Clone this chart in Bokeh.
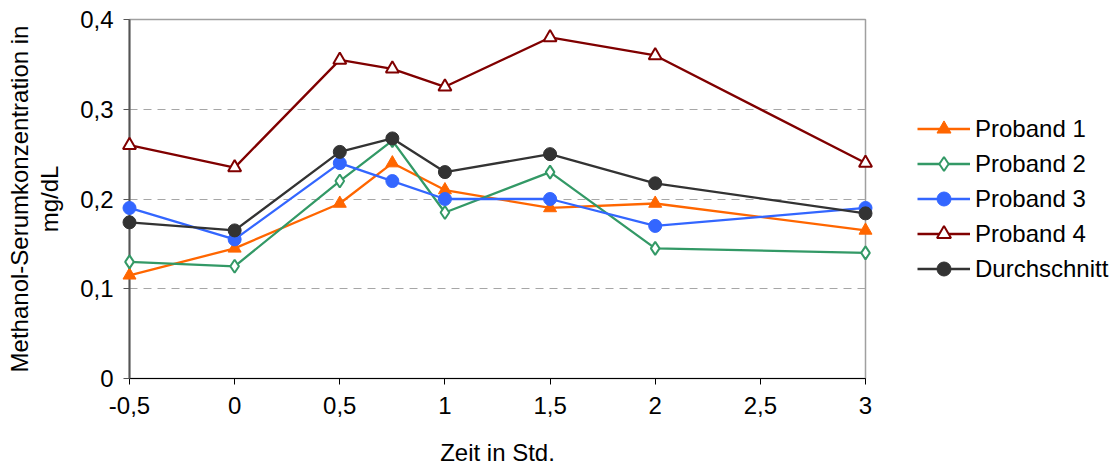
from bokeh.plotting import figure
from bokeh.models import (Range1d, FixedTicker, CustomJSTickFormatter, Legend, LegendItem)
from bokeh.embed import file_html
from bokeh.resources import INLINE

# ---- data ----
zeit = [-0.5, 0, 0.5, 0.75, 1, 1.5, 2, 3]
proband1 = [0.115, 0.145, 0.195, 0.24, 0.21, 0.19, 0.195, 0.165]
proband2 = [0.13, 0.125, 0.22, 0.265, 0.185, 0.23, 0.145, 0.14]
proband3 = [0.19, 0.155, 0.24, 0.22, 0.20, 0.20, 0.17, 0.19]
proband4 = [0.26, 0.235, 0.355, 0.345, 0.325, 0.38, 0.36, 0.24]
durchschnitt = [0.174, 0.165, 0.2525, 0.2675, 0.23, 0.25, 0.2175, 0.184]
series_names = ["Proband 1", "Proband 2", "Proband 3", "Proband 4", "Durchschnitt"]
x_ticks = [-0.5, 0, 0.5, 1, 1.5, 2, 2.5, 3]
y_ticks = [0, 0.1, 0.2, 0.3, 0.4]
x_title = "Zeit in Std."
y_title = "Methanol-Serumkonzentration in\nmg/dL"

FONT = "Liberation Sans"

p = figure(frame_width=736, frame_height=359,
           x_range=Range1d(-0.5, 3), y_range=Range1d(0, 0.4),
           output_backend="svg", toolbar_location=None,
           min_border_left=129, min_border_top=19, min_border_right=252,
           min_border_bottom=0)
p.background_fill_color = "white"
p.border_fill_color = "white"
p.outline_line_color = "#a0a0a0"
p.outline_line_width = 1.5

fmt = CustomJSTickFormatter(code="return String(Math.round(tick*10)/10).replace('.', ',');")

xa = p.xaxis[0]
xa.ticker = FixedTicker(ticks=x_ticks)
xa.formatter = fmt
xa.axis_line_color = "black"
xa.axis_line_width = 1.2
xa.major_tick_line_color = "black"
xa.major_tick_out = 6
xa.major_tick_in = 0
xa.minor_tick_line_color = None
xa.major_label_text_font = FONT
xa.major_label_text_font_size = "24px"
xa.major_label_text_color = "black"
xa.major_label_standoff = 12
xa.axis_label = x_title
xa.axis_label_text_font = FONT
xa.axis_label_text_font_size = "24px"
xa.axis_label_text_font_style = "normal"
xa.axis_label_text_color = "black"
xa.axis_label_standoff = 22

ya = p.yaxis[0]
ya.ticker = FixedTicker(ticks=y_ticks)
ya.formatter = fmt
ya.axis_line_color = "#555555"
ya.axis_line_width = 2
ya.major_tick_line_color = "#555555"
ya.major_tick_out = 6
ya.major_tick_in = 0
ya.minor_tick_line_color = None
ya.major_label_text_font = FONT
ya.major_label_text_font_size = "24px"
ya.major_label_text_color = "black"
ya.major_label_standoff = 10
ya.axis_label = y_title
ya.axis_label_text_font = FONT
ya.axis_label_text_font_size = "24px"
ya.axis_label_text_font_style = "normal"
ya.axis_label_text_color = "black"
ya.axis_label_text_line_height = 1.125
ya.axis_label_standoff = 14

p.xgrid.grid_line_color = None
p.ygrid.ticker = FixedTicker(ticks=y_ticks)
p.ygrid.grid_line_color = "#a6a6a6"
p.ygrid.grid_line_dash = "8 6"
p.ygrid.grid_line_width = 1

items = []
specs = [
    (proband1, "#ff6600", "triangle", "#ff6600", 13),
    (proband2, "#339966", "diamond", "white", 13),
    (proband3, "#3366ff", "circle", "#3366ff", 13),
    (proband4, "#800000", "triangle", "white", 13),
    (durchschnitt, "#333333", "circle", "#333333", 13),
]
for name, (ys, col, mk, fill, sz) in zip(series_names, specs):
    r1 = p.line(zeit, ys, line_color=col, line_width=2.3)
    r2 = p.scatter(zeit, ys, marker=mk, size=sz, line_color=col, fill_color=fill,
                   line_width=2 if fill == "white" else 1, level="overlay")
    items.append(LegendItem(label=name, renderers=[r1, r2]))

legend = Legend(items=items, location=(52, 92), margin=0, padding=0,
                border_line_color=None, background_fill_alpha=0,
                glyph_width=53, glyph_height=35, label_height=35, spacing=0,
                label_standoff=5, label_text_font=FONT, label_text_font_size="24px",
                label_text_color="black")
p.add_layout(legend, "right")

open("out.html", "w").write(file_html(p, INLINE))
